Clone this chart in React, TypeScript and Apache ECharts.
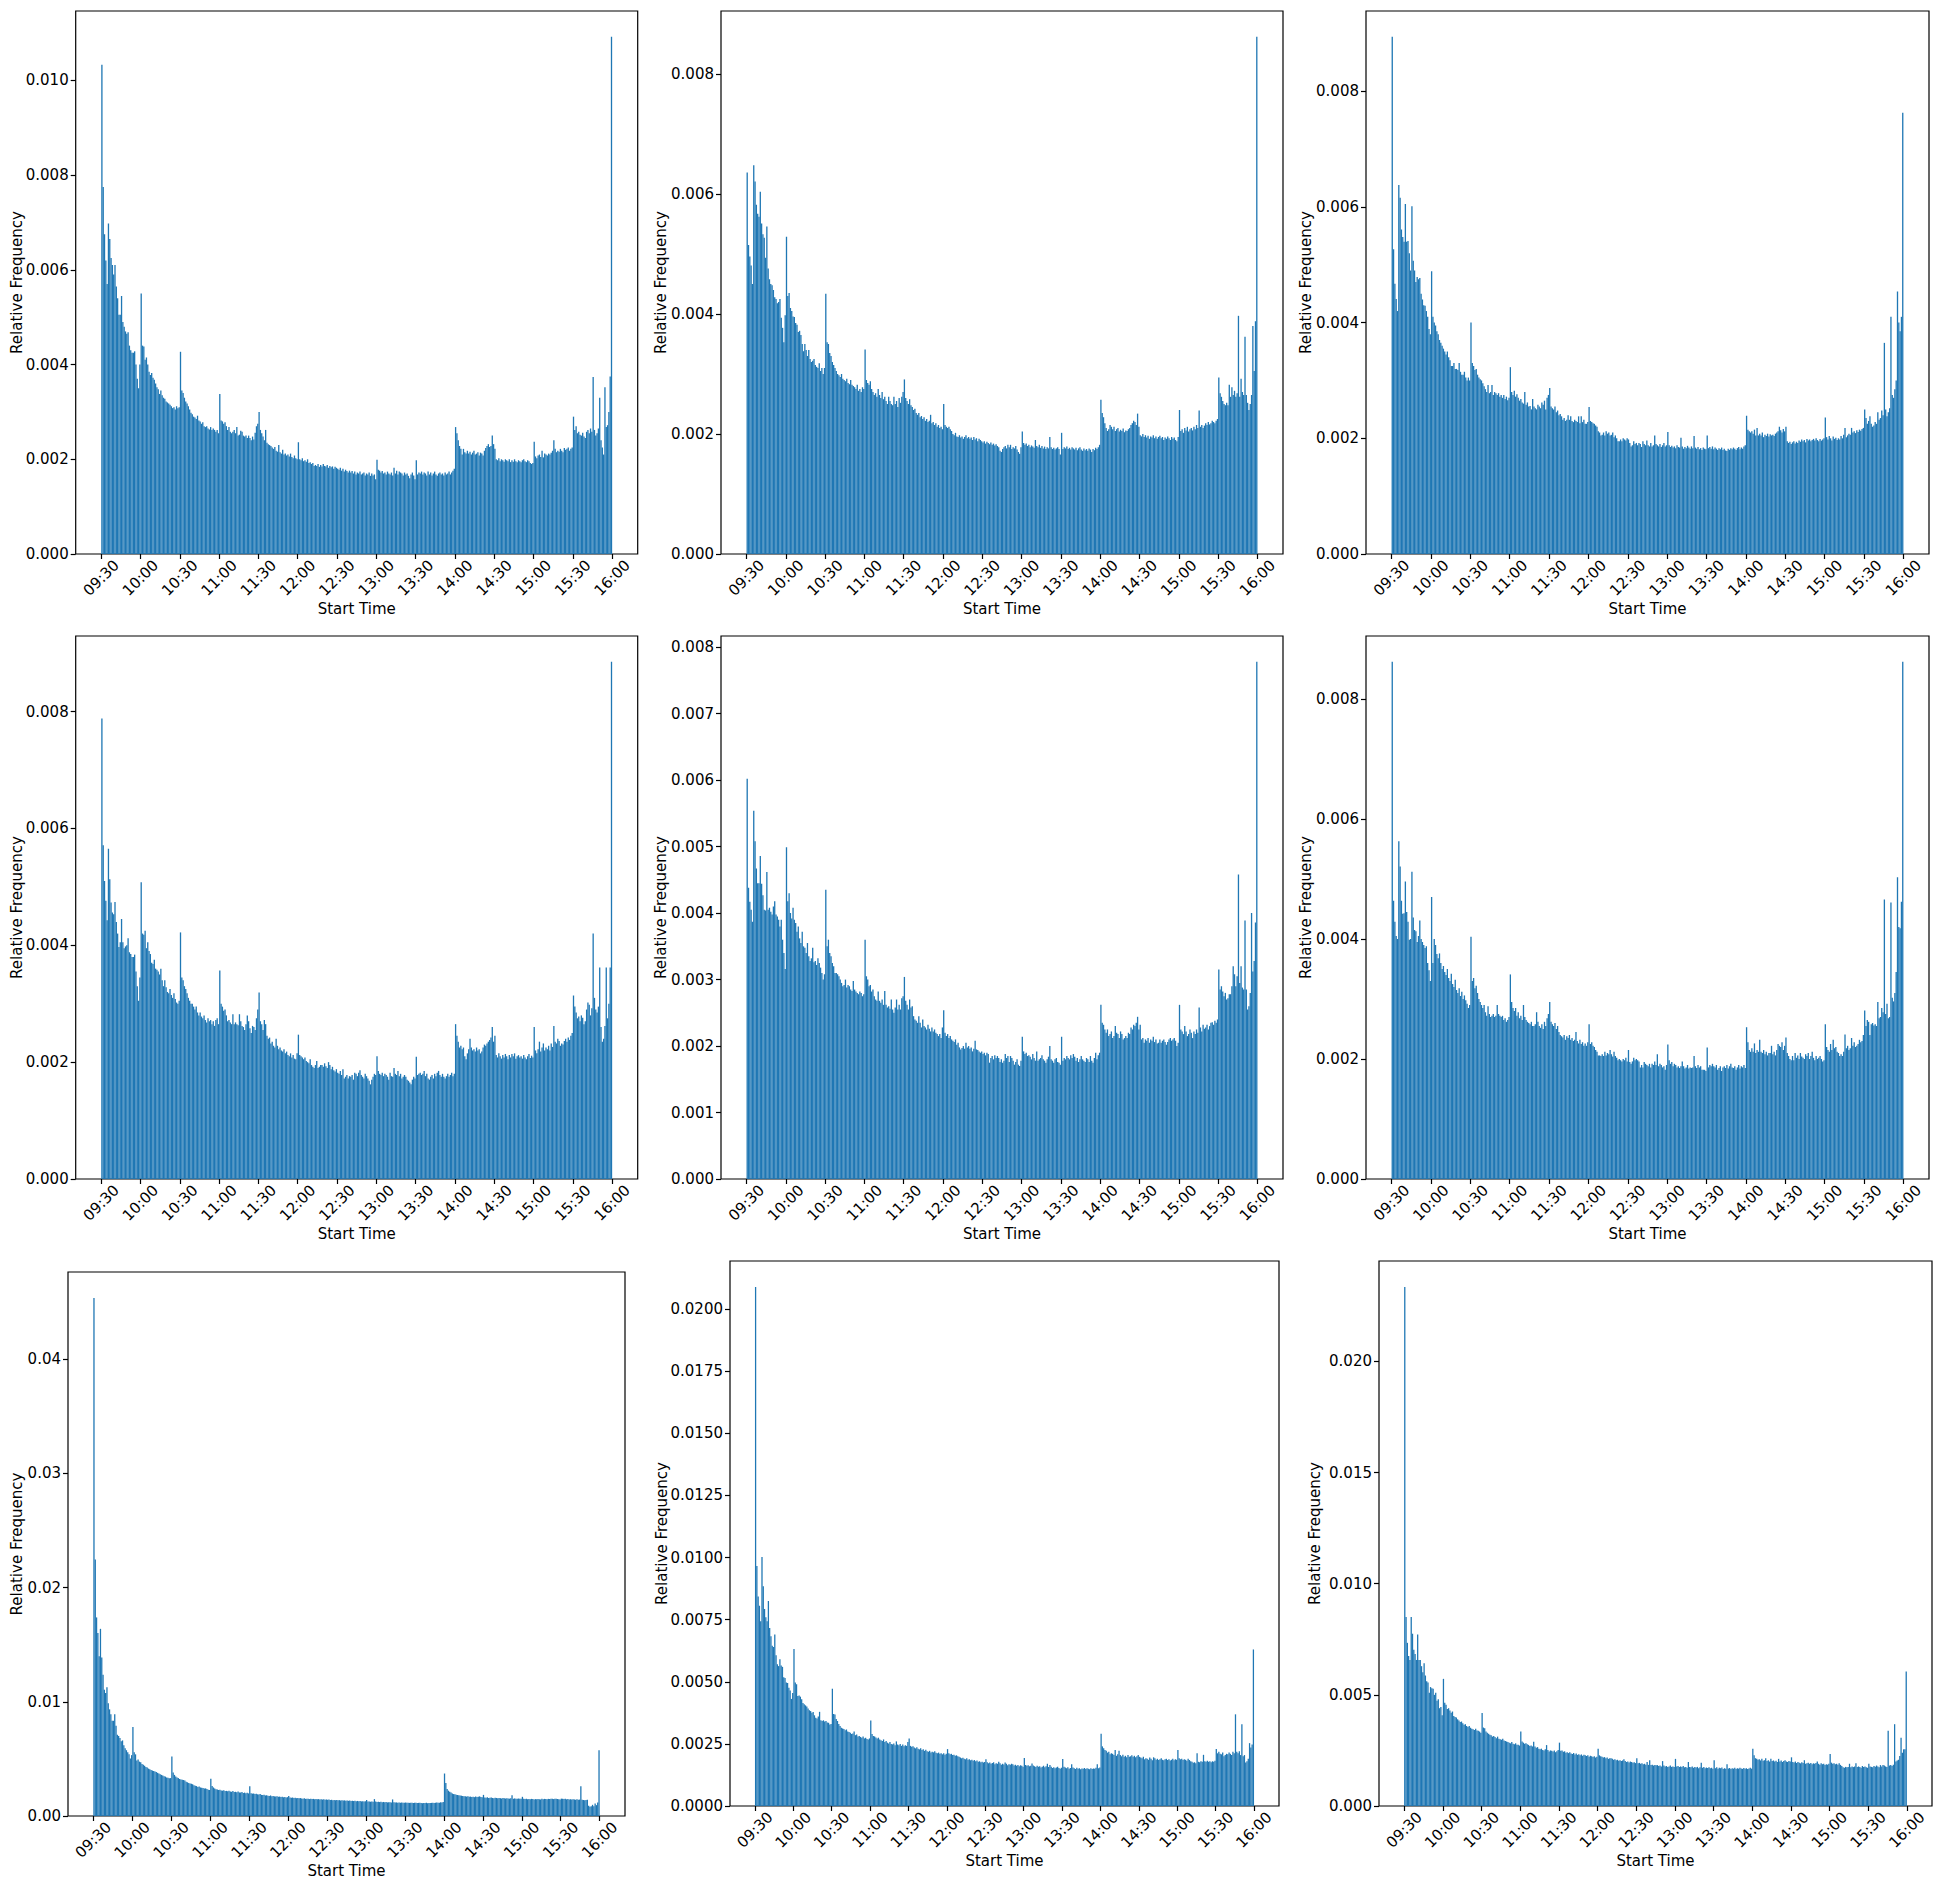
import React, { useEffect, useRef } from 'react';
import * as echarts from 'echarts';

// ---------- DATA (relative frequency per 1-minute bin, in units of 1e-5) ----------
const X_TICK_LABELS = ['09:30', '10:00', '10:30', '11:00', '11:30', '12:00', '12:30', '13:00', '13:30', '14:00', '14:30', '15:00', '15:30', '16:00'];
const SESSION_START = '09:30';
const SESSION_END = '16:00';
const UNIT = 1e-5;

const P1 = [
  1033, 775, 675, 620, 570, 698, 665, 625, 610, 590,
  610, 565, 540, 505, 505, 545, 490, 480, 470, 465,
  468, 440, 430, 425, 425, 428, 400, 370, 350, 400,
  550, 440, 438, 410, 415, 400, 385, 378, 382, 372,
  368, 360, 352, 348, 338, 345, 335, 330, 328, 322,
  320, 318, 315, 312, 308, 310, 305, 312, 308, 310,
  427, 345, 340, 330, 322, 318, 312, 305, 298, 295,
  290, 288, 285, 292, 282, 280, 275, 278, 270, 268,
  270, 265, 263, 268, 262, 265, 262, 258, 262, 255,
  338, 282, 280, 275, 278, 270, 262, 268, 258, 255,
  258, 262, 255, 268, 250, 252, 260, 258, 250, 248,
  250, 245, 250, 245, 240, 248, 242, 256, 270, 275,
  300, 262, 255, 248, 240, 262, 235, 232, 230, 228,
  225, 222, 226, 218, 216, 230, 215, 212, 220, 210,
  212, 208, 210, 206, 212, 205, 202, 208, 202, 200,
  236, 200, 198, 202, 196, 198, 195, 200, 192, 194,
  190, 192, 186, 188, 186, 190, 184, 188, 185, 190,
  186, 185, 188, 182, 186, 183, 185, 180, 184, 182,
  180, 178, 182, 176, 180, 174, 178, 175, 172, 176,
  172, 175, 170, 174, 168, 172, 170, 174, 168, 170,
  172, 166, 170, 168, 172, 165, 170, 166, 168, 158,
  199, 178, 176, 172, 175, 170, 172, 168, 174, 170,
  168, 172, 166, 182, 170, 176, 168, 174, 172, 170,
  166, 172, 168, 170, 165, 160, 168, 172, 166, 158,
  198, 168, 172, 170, 174, 168, 172, 170, 166, 174,
  168, 172, 166, 170, 174, 168, 165, 170, 172, 168,
  170, 166, 172, 168, 170, 174, 168, 172, 176, 180,
  268, 255, 240, 228, 222, 210, 222, 215, 212, 218,
  212, 216, 210, 214, 218, 210, 212, 215, 208, 214,
  212, 208, 218, 224, 228, 232, 226, 228, 250, 232,
  222, 200, 198, 202, 196, 200, 198, 195, 200, 198,
  196, 200, 194, 198, 195, 200, 196, 194, 198, 196,
  194, 198, 200, 196, 194, 198, 196, 192, 190, 192,
  237, 206, 202, 208, 210, 205, 218, 204, 212, 210,
  208, 212, 210, 214, 218, 240, 222, 215, 218, 216,
  222, 218, 215, 224, 220, 222, 225, 218, 222, 225,
  290, 262, 270, 255, 258, 252, 250, 256, 248, 245,
  258, 262, 255, 265, 258, 374, 262, 250, 255, 265,
  330, 240, 225, 210, 352, 268, 272, 300, 375, 1092,
];

const P2 = [
  636, 515, 496, 481, 450, 648, 621, 582, 567, 562,
  604, 551, 533, 527, 494, 546, 476, 458, 450, 448,
  440, 428, 425, 418, 420, 425, 394, 377, 353, 398,
  529, 430, 435, 410, 405, 396, 395, 385, 382, 370,
  372, 365, 350, 338, 350, 340, 330, 340, 325, 320,
  322, 325, 315, 312, 310, 318, 305, 310, 300, 310,
  434, 353, 350, 335, 330, 320, 315, 310, 305, 300,
  298, 295, 300, 292, 290, 288, 292, 285, 283, 290,
  282, 280, 278, 275, 282, 272, 275, 270, 278, 275,
  341, 290, 285, 282, 288, 275, 270, 265, 268, 262,
  275, 265, 260, 270, 258, 262, 255, 250, 262, 255,
  250, 248, 262, 250, 255, 245, 260, 252, 262, 270,
  291, 260, 255, 250, 258, 248, 245, 240, 242, 235,
  232, 235, 228, 230, 225, 228, 222, 225, 220, 222,
  232, 218, 220, 215, 218, 212, 215, 210, 212, 208,
  250, 215, 212, 210, 212, 208, 205, 200, 198, 202,
  196, 195, 198, 194, 196, 192, 195, 198, 193, 195,
  192, 194, 190, 195, 191, 193, 188, 192, 190, 188,
  186, 188, 184, 187, 185, 183, 186, 182, 184, 181,
  183, 180, 178, 172, 170, 175, 178, 180, 176, 182,
  178, 182, 175, 178, 176, 180, 174, 170, 167, 178,
  204, 185, 182, 184, 180, 182, 178, 181, 179, 177,
  190, 180, 178, 182, 177, 180, 176, 179, 175, 178,
  176, 195, 178, 175, 177, 174, 176, 178, 175, 166,
  202, 175, 178, 176, 179, 175, 177, 174, 178, 176,
  174, 177, 173, 176, 178, 174, 172, 176, 173, 175,
  172, 176, 174, 170, 175, 173, 177, 175, 178, 182,
  257, 235, 228, 218, 210, 205, 208, 215, 212, 208,
  212, 205, 208, 210, 204, 207, 205, 209, 203, 206,
  205, 208, 210, 215, 218, 222, 220, 215, 234, 212,
  198, 196, 200, 195, 198, 194, 197, 192, 196, 194,
  198, 193, 196, 192, 195, 197, 193, 195, 190, 194,
  192, 196, 193, 190, 195, 192, 194, 190, 188, 195,
  240, 205, 208, 202, 210, 206, 212, 204, 208, 210,
  206, 212, 208, 215, 210, 239, 212, 215, 210, 214,
  218, 215, 220, 216, 218, 222, 220, 218, 222, 225,
  294, 268, 262, 255, 250, 248, 252, 248, 282, 262,
  278, 265, 272, 262, 268, 397, 262, 292, 270, 265,
  362, 265, 252, 240, 250, 265, 380, 305, 388, 862,
];

const P3 = [
  894, 527, 467, 441, 420, 638, 616, 561, 548, 540,
  605, 540, 541, 520, 490, 601, 507, 490, 470, 479,
  475, 477, 450, 440, 430, 429, 420, 410, 389, 380,
  489, 410, 400, 395, 385, 380, 370, 365, 360, 355,
  350, 345, 350, 340, 335, 325, 325, 330, 320, 320,
  318, 330, 315, 310, 310, 315, 305, 300, 305, 300,
  400, 330, 325, 318, 320, 310, 305, 302, 300, 295,
  290, 285, 280, 292, 278, 280, 292, 275, 280, 278,
  275, 278, 272, 275, 270, 275, 268, 272, 266, 270,
  323, 280, 275, 282, 272, 276, 270, 265, 268, 262,
  260, 280, 258, 262, 255, 256, 250, 268, 255, 252,
  250, 258, 255, 252, 262, 258, 265, 250, 270, 275,
  287, 255, 252, 250, 255, 245, 248, 240, 242, 238,
  232, 235, 230, 232, 240, 232, 238, 230, 228, 232,
  230, 228, 238, 226, 238, 228, 232, 225, 225, 228,
  254, 230, 228, 226, 225, 222, 220, 212, 210, 205,
  206, 210, 205, 212, 208, 210, 205, 206, 210, 202,
  205, 200, 195, 195, 198, 195, 200, 198, 196, 200,
  198, 192, 186, 188, 195, 190, 192, 188, 192, 190,
  185, 195, 190, 188, 196, 188, 186, 192, 186, 188,
  205, 190, 188, 186, 190, 185, 188, 192, 186, 188,
  211, 188, 185, 187, 184, 186, 183, 188, 185, 184,
  201, 186, 182, 185, 183, 187, 184, 182, 186, 183,
  204, 184, 182, 185, 181, 183, 180, 184, 182, 181,
  205, 183, 185, 182, 186, 181, 184, 182, 180, 183,
  181, 184, 180, 182, 179, 178, 182, 180, 183, 181,
  184, 182, 180, 183, 185, 181, 184, 182, 186, 188,
  239, 215, 212, 210, 212, 208, 215, 205, 218, 205,
  208, 205, 210, 202, 206, 204, 208, 203, 207, 205,
  206, 204, 208, 210, 212, 220, 214, 210, 216, 212,
  220, 195, 192, 194, 190, 193, 195, 191, 194, 192,
  196, 194, 198, 195, 197, 193, 199, 196, 198, 195,
  197, 199, 196, 200, 197, 195, 199, 196, 198, 200,
  236, 202, 198, 204, 200, 196, 203, 199, 201, 197,
  200, 198, 204, 200, 206, 218, 202, 205, 208, 206,
  218, 210, 212, 209, 214, 211, 215, 213, 216, 218,
  250, 235, 225, 230, 238, 225, 220, 222, 228, 225,
  245, 232, 235, 248, 240, 365, 250, 238, 245, 252,
  410, 275, 270, 285, 300, 454, 400, 385, 410, 763,
];

const P4 = [
  788, 571, 510, 476, 443, 565, 513, 473, 456, 453,
  474, 440, 420, 397, 405, 445, 405, 395, 398, 400,
  412, 388, 385, 380, 380, 384, 355, 330, 305, 345,
  508, 420, 418, 425, 395, 405, 390, 385, 370, 368,
  375, 360, 358, 355, 350, 360, 340, 330, 340, 328,
  320, 318, 325, 315, 310, 318, 308, 302, 300, 305,
  422, 345, 340, 330, 325, 318, 310, 305, 300, 300,
  295, 290, 295, 285, 280, 285, 278, 275, 280, 272,
  268, 275, 270, 272, 265, 270, 262, 272, 275, 265,
  357, 300, 295, 288, 290, 280, 270, 272, 268, 265,
  282, 265, 268, 265, 263, 282, 270, 262, 260, 255,
  265, 280, 270, 258, 250, 262, 260, 255, 275, 290,
  319, 270, 265, 255, 272, 265, 245, 240, 242, 232,
  235, 228, 225, 240, 228, 222, 225, 220, 218, 222,
  215, 218, 212, 210, 215, 208, 212, 206, 205, 215,
  247, 212, 210, 208, 205, 208, 202, 200, 198, 205,
  195, 192, 190, 195, 202, 190, 192, 195, 195, 192,
  198, 193, 190, 200, 195, 188, 192, 186, 184, 188,
  182, 180, 185, 178, 188, 172, 175, 178, 172, 176,
  175, 178, 170, 182, 180, 176, 182, 186, 178, 175,
  172, 180, 176, 172, 168, 162, 170, 175, 180, 178,
  210, 185, 180, 178, 182, 176, 180, 178, 175, 170,
  182, 176, 175, 190, 180, 178, 185, 176, 180, 172,
  175, 178, 175, 170, 168, 165, 162, 170, 175, 172,
  209, 178, 180, 182, 178, 180, 185, 176, 180, 172,
  170, 175, 178, 172, 180, 176, 182, 185, 178, 175,
  180, 175, 172, 176, 180, 175, 178, 182, 176, 180,
  265, 245, 235, 225, 228, 222, 225, 210, 205, 215,
  222, 240, 225, 220, 222, 218, 225, 220, 222, 215,
  218, 225, 230, 228, 232, 235, 238, 242, 260, 235,
  245, 212, 208, 215, 210, 206, 212, 208, 214, 210,
  205, 212, 208, 214, 210, 215, 206, 210, 212, 208,
  210, 206, 212, 208, 205, 210, 214, 207, 211, 208,
  260, 220, 215, 222, 235, 218, 225, 232, 220, 225,
  222, 228, 220, 232, 226, 262, 235, 232, 240, 236,
  228, 232, 230, 236, 240, 235, 242, 238, 245, 250,
  314, 295, 285, 275, 278, 270, 280, 276, 265, 270,
  290, 302, 298, 280, 292, 420, 310, 290, 285, 295,
  362, 260, 235, 240, 262, 362, 275, 300, 362, 885,
];

const P5 = [
  602, 438, 417, 405, 387, 554, 508, 467, 445, 445,
  486, 444, 427, 405, 404, 462, 405, 408, 402, 398,
  410, 418, 398, 395, 390, 380, 390, 360, 340, 316,
  499, 418, 430, 400, 392, 408, 390, 385, 372, 380,
  362, 355, 372, 350, 348, 340, 355, 335, 328, 332,
  348, 326, 328, 322, 332, 325, 318, 310, 300, 308,
  435, 350, 360, 340, 335, 325, 320, 310, 310, 308,
  305, 300, 295, 290, 292, 300, 288, 292, 290, 285,
  283, 298, 285, 282, 280, 278, 282, 280, 275, 278,
  360, 305, 300, 290, 292, 282, 285, 275, 270, 268,
  282, 268, 265, 270, 262, 283, 262, 258, 260, 256,
  270, 255, 250, 258, 270, 255, 262, 255, 272, 275,
  304, 268, 262, 255, 270, 258, 260, 245, 240, 238,
  235, 245, 235, 228, 240, 230, 228, 225, 232, 226,
  222, 228, 222, 225, 220, 218, 215, 218, 212, 228,
  254, 220, 215, 218, 212, 215, 210, 208, 206, 210,
  202, 205, 198, 195, 197, 200, 196, 205, 198, 200,
  196, 198, 192, 196, 208, 195, 194, 192, 190, 192,
  188, 190, 186, 190, 188, 175, 182, 185, 180, 186,
  182, 185, 182, 176, 180, 175, 178, 188, 182, 185,
  176, 185, 182, 178, 172, 176, 180, 172, 170, 178,
  214, 192, 188, 190, 185, 186, 184, 180, 188, 182,
  178, 192, 178, 180, 182, 186, 180, 178, 175, 180,
  184, 200, 180, 178, 175, 180, 182, 176, 175, 172,
  214, 178, 182, 180, 185, 182, 180, 186, 182, 188,
  184, 178, 182, 176, 180, 185, 180, 178, 176, 182,
  180, 176, 185, 178, 175, 182, 190, 180, 186, 190,
  262, 235, 232, 225, 220, 225, 215, 218, 222, 212,
  215, 230, 220, 218, 212, 222, 218, 210, 212, 215,
  212, 220, 218, 228, 225, 232, 230, 235, 244, 225,
  232, 210, 212, 205, 210, 208, 212, 205, 210, 208,
  214, 206, 210, 204, 205, 210, 205, 208, 210, 206,
  202, 206, 210, 212, 208, 210, 212, 208, 200, 205,
  262, 225, 222, 218, 230, 222, 215, 218, 225, 220,
  212, 222, 218, 225, 220, 258, 228, 222, 232, 226,
  228, 232, 225, 230, 235, 236, 232, 238, 235, 240,
  315, 285, 290, 282, 275, 280, 270, 272, 278, 278,
  290, 320, 308, 290, 305, 458, 295, 320, 288, 285,
  389, 285, 255, 260, 280, 400, 312, 328, 386, 778,
];

const P6 = [
  862, 464, 429, 405, 400, 563, 521, 464, 442, 443,
  496, 445, 429, 399, 400, 512, 436, 415, 413, 395,
  405, 431, 400, 395, 390, 385, 388, 360, 348, 330,
  470, 360, 400, 390, 375, 368, 376, 360, 350, 355,
  345, 340, 350, 335, 330, 342, 325, 320, 332, 315,
  310, 318, 305, 312, 300, 306, 298, 292, 285, 290,
  404, 330, 335, 318, 322, 310, 300, 295, 290, 285,
  290, 278, 272, 288, 275, 270, 272, 275, 270, 272,
  290, 275, 272, 270, 272, 265, 268, 262, 265, 270,
  341, 295, 285, 280, 285, 272, 278, 268, 272, 265,
  290, 270, 265, 262, 260, 258, 262, 255, 255, 258,
  278, 262, 255, 252, 258, 250, 262, 255, 268, 275,
  295, 262, 258, 255, 260, 250, 255, 245, 240, 238,
  236, 240, 232, 238, 235, 240, 232, 235, 230, 232,
  245, 230, 226, 232, 225, 228, 222, 226, 222, 228,
  258, 225, 228, 222, 220, 215, 212, 206, 206, 205,
  208, 205, 212, 206, 210, 208, 215, 208, 204, 212,
  205, 202, 198, 200, 198, 196, 200, 198, 202, 196,
  215, 195, 192, 196, 202, 198, 200, 198, 196, 186,
  190, 186, 195, 192, 190, 188, 192, 186, 192, 190,
  196, 190, 208, 188, 192, 190, 186, 188, 182, 190,
  224, 198, 192, 195, 188, 192, 190, 186, 188, 185,
  188, 196, 188, 184, 186, 190, 184, 186, 185, 186,
  205, 188, 185, 190, 186, 188, 182, 182, 182, 180,
  219, 186, 190, 188, 192, 188, 186, 190, 182, 185,
  188, 180, 186, 188, 185, 190, 184, 188, 192, 186,
  185, 188, 182, 186, 190, 184, 188, 186, 190, 185,
  253, 228, 215, 212, 218, 212, 226, 210, 215, 212,
  232, 212, 210, 215, 208, 212, 206, 210, 210, 222,
  208, 212, 206, 215, 225, 222, 220, 228, 215, 222,
  236, 210, 205, 200, 198, 205, 198, 210, 202, 206,
  200, 210, 204, 202, 200, 208, 205, 210, 200, 205,
  212, 202, 198, 205, 200, 202, 205, 200, 196, 198,
  258, 220, 215, 212, 225, 215, 232, 218, 220, 212,
  210, 205, 208, 205, 212, 241, 218, 222, 215, 218,
  235, 222, 228, 220, 222, 225, 232, 228, 230, 240,
  281, 255, 265, 262, 240, 258, 260, 256, 258, 255,
  295, 268, 270, 285, 278, 466, 275, 292, 268, 270,
  461, 302, 296, 310, 345, 503, 420, 418, 462, 862,
];

const P7 = [
  4537, 2247, 1739, 1603, 1399, 1639, 1388, 1238, 1106, 1077,
  1127, 987, 934, 891, 834, 834, 891, 791, 712, 701,
  683, 655, 662, 619, 594, 576, 558, 540, 504, 533,
  780, 558, 540, 487, 495, 476, 470, 455, 448, 440,
  430, 425, 415, 410, 402, 398, 395, 390, 385, 378,
  372, 365, 360, 355, 348, 345, 338, 335, 330, 332,
  522, 380, 360, 345, 338, 332, 325, 320, 318, 315,
  310, 300, 295, 290, 285, 282, 278, 270, 265, 262,
  255, 258, 250, 248, 245, 240, 242, 236, 230, 228,
  326, 262, 250, 240, 235, 232, 228, 230, 224, 222,
  225, 218, 220, 216, 222, 215, 212, 218, 210, 212,
  208, 214, 206, 205, 210, 202, 205, 200, 204, 198,
  261, 200, 196, 198, 192, 195, 190, 188, 192, 185,
  184, 186, 180, 182, 178, 176, 180, 174, 175, 172,
  170, 174, 168, 170, 166, 168, 164, 166, 162, 165,
  175, 162, 160, 162, 158, 160, 156, 158, 155, 157,
  154, 152, 155, 150, 152, 150, 148, 152, 148, 150,
  147, 149, 146, 148, 145, 147, 144, 146, 143, 145,
  142, 144, 140, 142, 139, 141, 138, 140, 137, 139,
  136, 138, 135, 137, 134, 136, 133, 135, 132, 134,
  131, 133, 130, 132, 129, 131, 128, 130, 127, 129,
  140, 126, 128, 125, 127, 124, 148, 126, 123, 125,
  122, 124, 121, 123, 120, 122, 119, 121, 120, 118,
  145, 120, 118, 119, 117, 118, 116, 118, 117, 115,
  118, 116, 117, 115, 117, 116, 114, 116, 115, 113,
  115, 116, 114, 112, 114, 113, 115, 112, 114, 113,
  115, 117, 114, 116, 118, 115, 117, 120, 118, 122,
  372, 290, 236, 222, 212, 205, 198, 192, 190, 186,
  184, 182, 180, 178, 176, 174, 172, 170, 172, 168,
  170, 166, 168, 165, 170, 166, 168, 172, 166, 164,
  185, 162, 160, 164, 158, 160, 162, 158, 156, 160,
  158, 155, 158, 156, 154, 157, 155, 153, 156, 154,
  152, 155, 182, 150, 154, 152, 150, 153, 151, 150,
  168, 150, 148, 150, 147, 149, 146, 150, 148, 145,
  148, 146, 149, 147, 145, 152, 146, 150, 148, 146,
  150, 148, 152, 150, 148, 152, 150, 149, 147, 145,
  152, 150, 148, 150, 146, 148, 145, 147, 144, 146,
  145, 143, 146, 142, 144, 261, 142, 140, 138, 140,
  142, 90, 82, 85, 98, 86, 110, 95, 118, 576,
];

const P8 = [
  2089, 966, 843, 806, 744, 1002, 884, 793, 760, 744,
  825, 716, 683, 645, 640, 690, 607, 571, 563, 591,
  565, 560, 518, 515, 497, 495, 476, 465, 431, 455,
  632, 497, 490, 443, 445, 440, 430, 415, 410, 405,
  400, 392, 385, 382, 375, 378, 365, 355, 352, 360,
  379, 345, 342, 345, 340, 342, 336, 335, 328, 330,
  472, 370, 368, 350, 342, 330, 322, 315, 312, 310,
  305, 308, 300, 298, 295, 290, 292, 300, 285, 288,
  280, 282, 278, 275, 280, 272, 275, 270, 268, 272,
  344, 290, 282, 280, 276, 272, 275, 268, 265, 262,
  268, 258, 262, 255, 252, 258, 250, 248, 252, 245,
  260, 248, 245, 250, 242, 248, 240, 245, 242, 258,
  272, 242, 238, 240, 235, 232, 236, 230, 228, 232,
  225, 228, 222, 226, 220, 218, 222, 215, 218, 216,
  220, 214, 212, 215, 210, 212, 208, 212, 206, 210,
  229, 212, 208, 210, 205, 206, 202, 204, 200, 198,
  195, 192, 194, 190, 188, 192, 186, 188, 184, 186,
  182, 185, 180, 183, 178, 180, 176, 178, 175, 177,
  188, 176, 172, 175, 170, 173, 176, 168, 172, 170,
  178, 172, 166, 170, 167, 175, 170, 164, 168, 166,
  170, 168, 163, 166, 162, 165, 160, 164, 162, 158,
  193, 165, 162, 164, 160, 162, 171, 163, 160, 157,
  162, 158, 160, 155, 158, 162, 156, 160, 170, 157,
  165, 158, 153, 156, 152, 155, 158, 153, 150, 154,
  189, 158, 155, 152, 156, 150, 153, 168, 155, 152,
  149, 154, 150, 152, 148, 151, 150, 153, 149, 152,
  150, 148, 152, 149, 151, 150, 154, 168, 152, 155,
  291, 240, 232, 225, 222, 215, 218, 208, 212, 210,
  205, 225, 202, 208, 222, 205, 200, 206, 198, 202,
  196, 205, 198, 200, 204, 198, 202, 196, 200, 205,
  198, 195, 192, 198, 188, 192, 190, 186, 195, 190,
  184, 196, 192, 186, 190, 185, 188, 192, 186, 184,
  188, 190, 185, 188, 183, 186, 190, 184, 188, 186,
  225, 192, 188, 190, 185, 188, 186, 182, 190, 185,
  180, 178, 174, 176, 172, 212, 178, 176, 180, 178,
  206, 180, 178, 182, 178, 180, 176, 180, 178, 182,
  229, 212, 218, 210, 208, 215, 200, 205, 210, 208,
  215, 210, 205, 218, 212, 369, 218, 212, 220, 205,
  329, 200, 205, 175, 180, 190, 253, 235, 248, 630,
];

const P9 = [
  2335, 850, 734, 675, 657, 850, 775, 703, 684, 657,
  771, 657, 657, 629, 602, 642, 587, 561, 556, 510,
  535, 530, 528, 500, 510, 473, 480, 440, 445, 408,
  572, 465, 455, 436, 440, 430, 420, 425, 405, 400,
  398, 390, 385, 378, 380, 372, 365, 368, 360, 355,
  360, 352, 348, 345, 342, 348, 340, 338, 335, 330,
  418, 353, 350, 335, 330, 325, 320, 318, 312, 315,
  310, 305, 312, 302, 300, 298, 302, 295, 292, 290,
  288, 285, 282, 288, 280, 278, 282, 276, 275, 272,
  335, 290, 285, 280, 282, 278, 275, 270, 272, 268,
  289, 268, 262, 265, 258, 255, 258, 252, 250, 255,
  274, 252, 245, 250, 248, 245, 250, 242, 246, 252,
  285, 248, 250, 244, 246, 240, 242, 238, 242, 236,
  234, 238, 232, 236, 230, 233, 228, 232, 226, 230,
  228, 225, 228, 222, 226, 224, 220, 224, 218, 222,
  258, 228, 224, 222, 218, 220, 215, 218, 212, 215,
  215, 212, 208, 210, 206, 208, 204, 206, 202, 205,
  210, 202, 198, 200, 196, 200, 198, 195, 197, 193,
  215, 192, 194, 190, 192, 188, 190, 186, 198, 185,
  206, 184, 186, 182, 185, 183, 184, 180, 182, 178,
  202, 182, 178, 180, 176, 178, 182, 176, 178, 175,
  212, 178, 180, 176, 178, 175, 180, 174, 176, 172,
  198, 176, 174, 178, 172, 175, 173, 176, 170, 174,
  195, 172, 175, 170, 173, 171, 174, 170, 172, 168,
  206, 170, 174, 168, 172, 170, 173, 167, 170, 168,
  188, 169, 171, 167, 170, 168, 172, 166, 170, 168,
  172, 169, 167, 171, 168, 170, 166, 169, 172, 168,
  258, 228, 215, 212, 208, 210, 205, 212, 204, 206,
  215, 202, 206, 200, 212, 203, 205, 200, 204, 198,
  212, 200, 205, 198, 202, 206, 200, 198, 203, 200,
  219, 198, 196, 200, 194, 198, 195, 192, 197, 194,
  206, 190, 192, 195, 190, 193, 188, 192, 190, 194,
  200, 190, 186, 192, 188, 190, 185, 188, 186, 190,
  234, 195, 190, 192, 188, 190, 186, 192, 185, 180,
  174, 172, 176, 174, 176, 190, 174, 178, 175, 178,
  192, 175, 178, 176, 172, 180, 176, 178, 174, 172,
  190, 178, 176, 174, 180, 177, 182, 178, 174, 184,
  178, 184, 182, 178, 176, 338, 182, 184, 180, 186,
  368, 200, 205, 208, 225, 307, 240, 255, 255, 605,
];

const SERIES_VALUES = [P1, P2, P3, P4, P5, P6, P7, P8, P9];
const Y_TICK_STEPS = [0.002, 0.002, 0.002, 0.002, 0.001, 0.002, 0.01, 0.0025, 0.005];
const Y_TICK_DECIMALS = [3, 3, 3, 3, 3, 3, 2, 4, 3];

// ---------- LAYOUT (pixels) ----------
// nameGap = distance from the left spine to the centre of the rotated y-axis title
const PANEL_BOXES = [
  { left: 75.7, top: 11, width: 562, height: 543, nameGap: 58.3 },
  { left: 721, top: 11, width: 562, height: 543, nameGap: 60 },
  { left: 1366, top: 11, width: 563, height: 543, nameGap: 60.5 },
  { left: 75.7, top: 636, width: 562, height: 543, nameGap: 58.3 },
  { left: 721, top: 636, width: 562, height: 543, nameGap: 60 },
  { left: 1366, top: 636, width: 563, height: 543, nameGap: 60.5 },
  { left: 68, top: 1272, width: 557, height: 544, nameGap: 50.6 },
  { left: 730, top: 1261, width: 549, height: 545, nameGap: 68 },
  { left: 1379, top: 1261, width: 553, height: 545, nameGap: 63.6 },
];

const BAR_COLOR = '#1f77b4';
const FONT = 'DejaVu Sans';
const FS = 15;

const toMin = (s: string) => {
  const [h, m] = s.split(':').map(Number);
  return h * 60 + m;
};
const fmtMin = (v: number) => {
  const h = Math.floor(v / 60);
  const m = Math.round(v - h * 60);
  return String(h).padStart(2, '0') + ':' + String(m).padStart(2, '0');
};

export default function App() {
  const ref = useRef<HTMLDivElement>(null);
  useEffect(() => {
    document.body.style.margin = '0';
    const chart = echarts.init(ref.current!, null, { renderer: 'svg', width: 1944, height: 1897 });
    const t0 = toMin(SESSION_START);
    const t1 = toMin(SESSION_END);
    const pad = (t1 - t0) * 0.05;
    const xTicks = X_TICK_LABELS.map(toMin);

    const grid: any[] = [];
    const xAxis: any[] = [];
    const yAxis: any[] = [];
    const series: any[] = [];

    SERIES_VALUES.forEach((vals, i) => {
      const box = PANEL_BOXES[i];
      const data = vals.map((v, k) => [t0 + k, v * UNIT]);
      const maxV = Math.max(...vals) * UNIT;
      const yMax = maxV * 1.05;
      const step = Y_TICK_STEPS[i];
      const yTicks: number[] = [];
      for (let k = 0; k * step <= yMax + 1e-12; k++) yTicks.push(+(k * step).toFixed(6));

      grid.push({
        left: box.left, top: box.top, width: box.width, height: box.height,
        show: true, borderColor: '#000', borderWidth: 1.2, backgroundColor: 'transparent',
        containLabel: false, outerBoundsMode: 'none',
      });
      xAxis.push({
        type: 'value', gridIndex: i, min: t0 - pad, max: t1 + pad,
        name: 'Start Time', nameLocation: 'middle', nameGap: 55, nameMoveOverlap: false,
        nameTextStyle: { fontFamily: FONT, fontSize: FS, color: '#000', verticalAlign: 'middle', align: 'center' },
        axisLine: { show: false },
        splitLine: { show: false },
        axisTick: { show: true, length: 5, customValues: xTicks, lineStyle: { color: '#000', width: 1.2 } },
        axisLabel: {
          customValues: xTicks, rotate: 45, align: 'center', verticalAlign: 'middle', margin: 24,
          fontFamily: FONT, fontSize: FS, color: '#000', formatter: (v: number) => fmtMin(v),
          showMinLabel: true, showMaxLabel: true, hideOverlap: false,
        },
      });
      yAxis.push({
        type: 'value', gridIndex: i, min: 0, max: yMax,
        name: 'Relative Frequency', nameLocation: 'middle', nameGap: box.nameGap, nameRotate: 90,
        nameMoveOverlap: false,
        nameTextStyle: { fontFamily: FONT, fontSize: FS, color: '#000', verticalAlign: 'middle', align: 'center' },
        axisLine: { show: false },
        splitLine: { show: false },
        axisTick: { show: true, length: 5, customValues: yTicks, lineStyle: { color: '#000', width: 1.2 } },
        axisLabel: {
          customValues: yTicks, margin: 7, fontFamily: FONT, fontSize: FS, color: '#000',
          formatter: (v: number) => v.toFixed(Y_TICK_DECIMALS[i]),
          showMinLabel: true, showMaxLabel: true, hideOverlap: false,
        },
      });
      series.push({
        type: 'custom', coordinateSystem: 'cartesian2d', xAxisIndex: i, yAxisIndex: i,
        data, encode: { x: 0, y: 1 }, clip: true,
        renderItem: (params: any, api: any) => {
          const x0 = api.value(0);
          const v = api.value(1);
          const pA = api.coord([x0, 0]);
          const pB = api.coord([x0 + 1, v]);
          return {
            type: 'rect',
            shape: { x: pA[0], y: pB[1], width: pB[0] - pA[0], height: pA[1] - pB[1] },
            style: { fill: BAR_COLOR },
          };
        },
      });
    });

    chart.setOption({
      animation: false,
      backgroundColor: '#fff',
      textStyle: { fontFamily: FONT, color: '#000' },
      grid, xAxis, yAxis, series,
    });
    return () => chart.dispose();
  }, []);
  return <div ref={ref} style={{ width: 1944, height: 1897 }} />;
}
